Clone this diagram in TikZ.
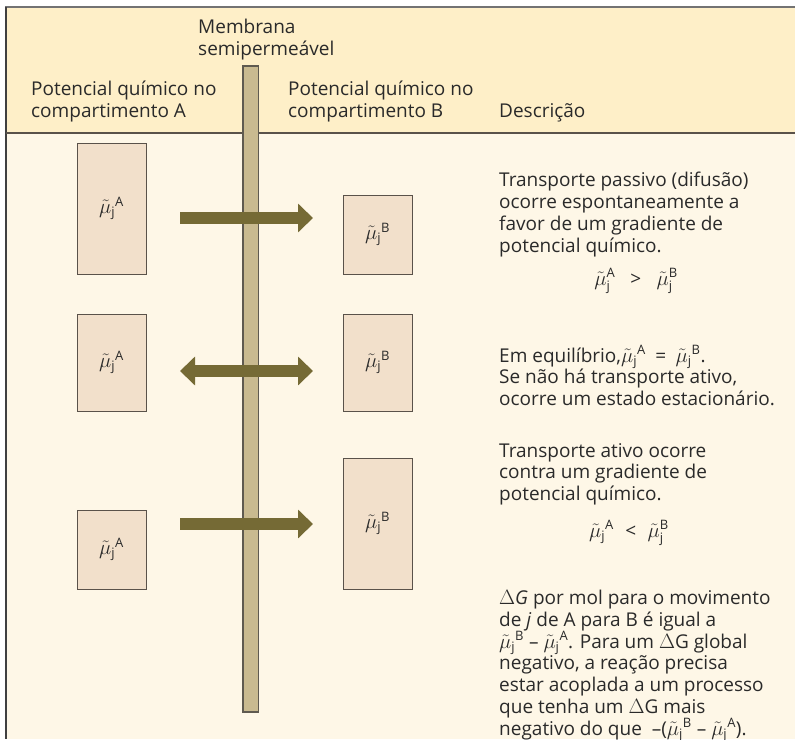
\documentclass[tikz,border=0pt]{standalone}
\usepackage{fontspec}
\usepackage{amsmath}
\setmainfont{Open Sans}
\usetikzlibrary{arrows.meta}
\DeclareMathSizes{19}{20.74}{13}{10}
\definecolor{headfill}{HTML}{FEEFC8}
\definecolor{bodyfill}{HTML}{FEF7E7}
\definecolor{boxfill}{HTML}{F2E0CB}
\definecolor{boxline}{HTML}{5A524A}
\definecolor{membfill}{HTML}{C9BA90}
\definecolor{membline}{HTML}{5F5A50}
\definecolor{arrowcol}{HTML}{756A35}
\definecolor{textgray}{HTML}{2A2A2A}
\newcommand{\muj}[1]{$\tilde{\mu}_{\text{j}}^{\text{#1}}$}
\newcommand{\mujs}[1]{$\tilde{\mu}_{\text{j}}{}^{\text{#1}}$}
\newcommand{\tightlines}{\lineskiplimit=-20pt\relax}
\begin{document}
\begin{tikzpicture}[x=1pt, y=-1pt,
    txt/.style={font=\fontsize{19}{21.7}\selectfont\tightlines, text=textgray, inner sep=0pt, align=left, anchor=base west},
    chem/.style={draw=boxline, fill=boxfill, line width=1pt, minimum width=69pt, inner sep=0pt, text=textgray, font=\fontsize{19}{21}\selectfont},
    flow/.style={line width=12pt, draw=arrowcol, -{Triangle[length=15pt,width=28pt]}}]
    \useasboundingbox (0,0) rectangle (795,739);

    % Background and frame
    \fill[bodyfill] (6,7) rectangle (795,739);
    \fill[headfill] (6,7) rectangle (795,133);
    \draw[line width=1.5pt, draw=black!55] (5,7) -- (795,7);
    \draw[line width=1.5pt, draw=black!75] (6,7) -- (6,739);
    \draw[line width=1.2pt, draw=boxline] (6,133) -- (795,133);

    % Membrane
    \draw[draw=membline, fill=membfill, line width=1.2pt] (243,66) rectangle (258.5,712);

    % Header labels (placed by the baseline of their last line)
    \node[txt] (hmemb) at (198,55) {Membrana\\semipermeável};
    \node[txt] (hA) at (31,117) {Potencial químico no\\compartimento A};
    \node[txt] (hB) at (288,117) {Potencial químico no\\compartimento B};
    \node[txt] (hdesc) at (499,117) {Descrição};

    % Compartments
    \node[chem, minimum height=131pt] (a1) at (111.5,208.5) {\mujs{A}};
    \node[chem, minimum height=97pt] (a2) at (111.5,362.5) {\mujs{A}};
    \node[chem, minimum height=79pt] (a3) at (111.5,549.5) {\mujs{A}};
    \node[chem, minimum height=79pt] (b1) at (377.5,234.5) {\mujs{B}};
    \node[chem, minimum height=97pt] (b2) at (377.5,362.5) {\mujs{B}};
    \node[chem, minimum height=131pt] (b3) at (377.5,523.5) {\mujs{B}};

    % Flows across the membrane
    \coordinate (f1) at (180,218);
    \coordinate (t1) at (313,218);
    \coordinate (f2) at (180,371);
    \coordinate (t2) at (313,371);
    \coordinate (f3) at (180,524);
    \coordinate (t3) at (313,524);
    \draw[flow] (f1) -- (t1);
    \draw[flow, {Triangle[length=15pt,width=28pt]}-{Triangle[length=15pt,width=28pt]}] (f2) -- (t2);
    \draw[flow] (f3) -- (t3);

    % Descriptions
    \node[txt] (d1) at (499,252) {Transporte passivo (difusão)\\ocorre espontaneamente a\\favor de um gradiente de\\potencial químico.};
    \node[txt, anchor=base] (e1) at (636,285) {\muj{A}\hspace{0.8em}>\hspace{0.8em}\muj{B}};
    \node[txt] (d2) at (499,405.4) {Em equilíbrio,\mujs{A}\hspace{0.5em}=\hspace{0.5em}\mujs{B}.\\Se não há transporte ativo,\\ocorre um estado estacionário.};
    \node[txt] (d3) at (499,500.4) {Transporte ativo ocorre\\contra um gradiente de\\potencial químico.};
    \node[txt, anchor=base] (e3) at (629,537) {\mujs{A}\hspace{0.6em}<\hspace{0.6em}\muj{B}};
    \node[txt] (d4) at (499,735) {$\Delta$\textit{G} por mol para o movimento\\de \textit{j} de A para B é igual a\\\mujs{B} – \mujs{A}. Para um $\Delta$G global\\negativo, a reação precisa\\estar acoplada a um processo\\que tenha um $\Delta$G mais\\negativo do que \ –(\mujs{B} – \mujs{A}).};
\end{tikzpicture}
\end{document}
